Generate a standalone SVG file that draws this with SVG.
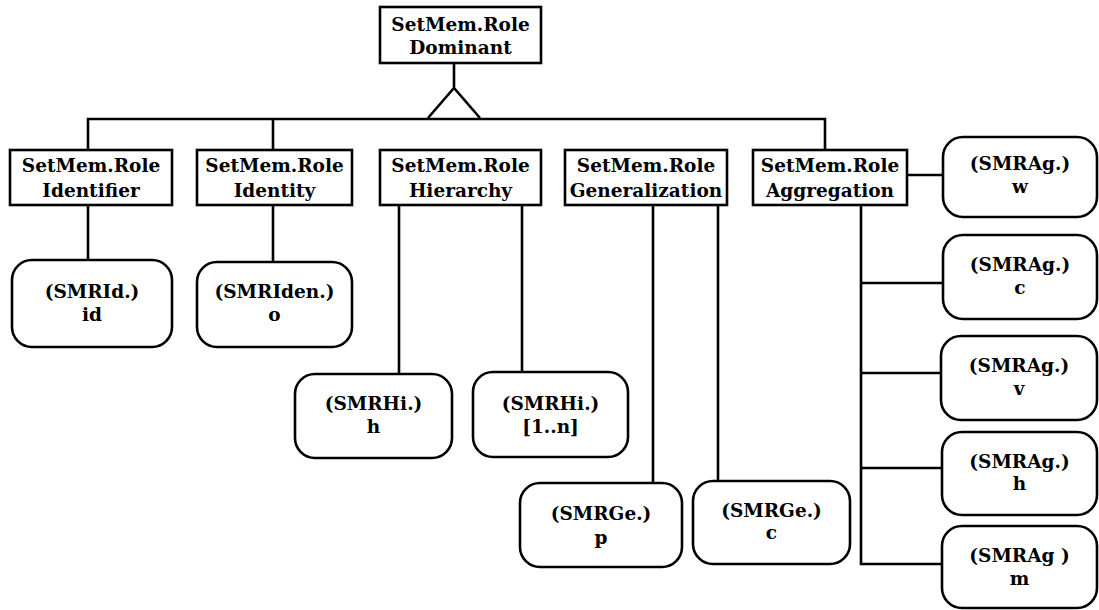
<svg xmlns="http://www.w3.org/2000/svg" width="1099" height="610" viewBox="0 0 1099 610">
  <style>
    .box { fill: #fff; stroke: #000; stroke-width: 2.6; }
    .rbox { fill: #fff; stroke: #000; stroke-width: 2.6; }
    .wire { fill: none; stroke: #000; stroke-width: 2.6; }
    text { font-family: "DejaVu Serif", "Liberation Serif", serif; font-weight: bold; font-size: 18.5px; text-anchor: middle; fill: #000; }
  </style>

  <!-- connectors -->
  <g id="connectors" class="wire">
    <path class="wire" d="M454 63 V88 M428 118 L454 88 L480 118"/>
    <path class="wire" d="M88 150 V119 H825 V150"/>
    <path class="wire" d="M273 119 V150"/>
    <path class="wire" d="M88 205 V260 M273 205 V262"/>
    <path class="wire" d="M399 205 V374 M522 205 V372"/>
    <path class="wire" d="M653 205 V483 M718 205 V481"/>
    <path class="wire" d="M907 175 H943"/>
    <path class="wire" d="M861 205 V564 H942 M861 283 H943 M861 373 H941 M861 468 H942"/>
  </g>

  <!-- rectangular role nodes -->
  <g id="dominant">
    <rect class="box" x="380" y="7" width="161" height="56"/>
    <text x="460.5" y="31">SetMem.Role</text>
    <text x="460.5" y="54">Dominant</text>
  </g>
  <g id="identifier">
    <rect class="box" x="10" y="150" width="162" height="55"/>
    <text x="91" y="172">SetMem.Role</text>
    <text x="91" y="197">Identifier</text>
  </g>
  <g id="identity">
    <rect class="box" x="197" y="150" width="155" height="55"/>
    <text x="274.5" y="172">SetMem.Role</text>
    <text x="274.5" y="197">Identity</text>
  </g>
  <g id="hierarchy">
    <rect class="box" x="380" y="150" width="161" height="55"/>
    <text x="460.5" y="172">SetMem.Role</text>
    <text x="460.5" y="197">Hierarchy</text>
  </g>
  <g id="generalization">
    <rect class="box" x="565" y="150" width="162" height="55"/>
    <text x="646" y="172">SetMem.Role</text>
    <text x="646" y="197">Generalization</text>
  </g>
  <g id="aggregation">
    <rect class="box" x="753" y="150" width="154" height="55"/>
    <text x="830" y="172">SetMem.Role</text>
    <text x="830" y="197">Aggregation</text>
  </g>

  <!-- rounded value nodes -->
  <g id="smrid-id">
    <rect class="rbox" x="12" y="260" width="160" height="87" rx="20"/>
    <text x="92" y="298">(SMRId.)</text>
    <text x="92" y="321">id</text>
  </g>
  <g id="smriden-o">
    <rect class="rbox" x="197" y="262" width="155" height="85" rx="20"/>
    <text x="274.5" y="298">(SMRIden.)</text>
    <text x="274.5" y="321">o</text>
  </g>
  <g id="smrhi-h">
    <rect class="rbox" x="295" y="374" width="157" height="84" rx="20"/>
    <text x="373.5" y="410">(SMRHi.)</text>
    <text x="373.5" y="433">h</text>
  </g>
  <g id="smrhi-1n">
    <rect class="rbox" x="473" y="372" width="155" height="85" rx="20"/>
    <text x="550.5" y="410">(SMRHi.)</text>
    <text x="550.5" y="433">[1..n]</text>
  </g>
  <g id="smrge-p">
    <rect class="rbox" x="520" y="483" width="162" height="84" rx="20"/>
    <text x="601" y="520">(SMRGe.)</text>
    <text x="601" y="544">p</text>
  </g>
  <g id="smrge-c">
    <rect class="rbox" x="693" y="481" width="157" height="83" rx="20"/>
    <text x="771.5" y="517">(SMRGe.)</text>
    <text x="771.5" y="539">c</text>
  </g>
  <g id="smrag-w">
    <rect class="rbox" x="943" y="137" width="154" height="80" rx="20"/>
    <text x="1020" y="170">(SMRAg.)</text>
    <text x="1020" y="193">w</text>
  </g>
  <g id="smrag-c">
    <rect class="rbox" x="943" y="235" width="154" height="84" rx="20"/>
    <text x="1020" y="271">(SMRAg.)</text>
    <text x="1020" y="294">c</text>
  </g>
  <g id="smrag-v">
    <rect class="rbox" x="941" y="336" width="156" height="84" rx="20"/>
    <text x="1019" y="372">(SMRAg.)</text>
    <text x="1019" y="395">v</text>
  </g>
  <g id="smrag-h">
    <rect class="rbox" x="942" y="432" width="155" height="83" rx="20"/>
    <text x="1019.5" y="468">(SMRAg.)</text>
    <text x="1019.5" y="490">h</text>
  </g>
  <g id="smrag-m">
    <rect class="rbox" x="942" y="526" width="155" height="82" rx="20"/>
    <text x="1019.5" y="562">(SMRAg )</text>
    <text x="1019.5" y="585">m</text>
  </g>
</svg>
